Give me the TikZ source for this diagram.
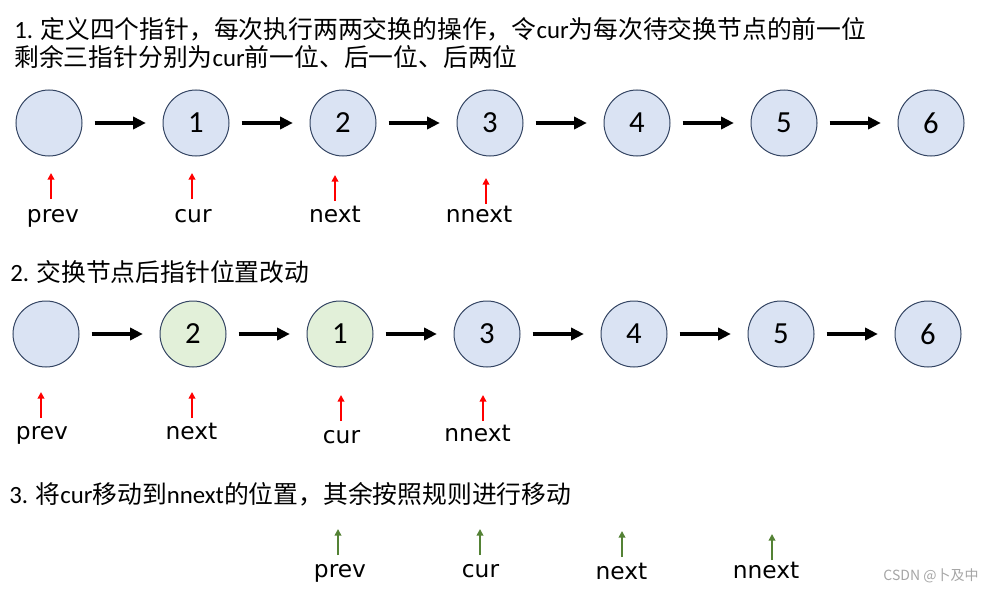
\documentclass[tikz,border=0pt]{standalone}
\usepackage{fontspec}
\setmainfont{Carlito}
\newfontfamily\cjk{Noto Sans CJK SC}
\newfontfamily\lblfont{DejaVu Sans}
\usetikzlibrary{arrows.meta}
\definecolor{nodeblue}{HTML}{DAE3F3}
\definecolor{nodegreen}{HTML}{E2F0D9}
\definecolor{nodeline}{HTML}{344563}
\definecolor{ptrgreen}{HTML}{548235}
\tikzset{
    >={Triangle[length=9.5pt,width=9pt]},
    listnode/.style={circle, draw=nodeline, line width=0.75pt, fill=nodeblue,
        minimum size=49.5pt, inner sep=0pt, font=\fontsize{23}{23}\selectfont},
    swapnode/.style={listnode, fill=nodegreen},
    link/.style={->, line width=3pt, shorten <=9pt, shorten >=12.5pt},
    ptrlabel/.style={inner sep=0pt, anchor=base, font=\lblfont\fontsize{17.5}{17.5}\selectfont},
    redptr/.style={-{Triangle[length=5pt,width=5pt]}, line width=1.5pt, red},
    greenptr/.style={redptr, ptrgreen},
    heading/.style={inner sep=0pt, anchor=base west, font=\fontsize{18.6}{23}\selectfont},
}

\begin{document}
\begin{tikzpicture}[x=0.75pt, y=-0.75pt]
    \fill[white] (0,0) rectangle (995,592);
    \useasboundingbox (0,0) rectangle (995,592);

    % step 1
    \node[heading] (head1) at (14,38.5)
        {1. {\cjk 定义四个指针，每次执行两两交换的操作，令}cur{\cjk 为每次待交换节点的前一位}};
    \node[heading] (head1b) at (14,66.5)
        {{\cjk 剩余三指针分别为}cur{\cjk 前一位、后一位、后两位}};

    \node[listnode] (a0) at (49,123) {};
    \foreach \i in {1,...,6}
        \node[listnode] (a\i) at ({49+147*\i},123) {\i};
    \foreach \i [count=\j] in {0,...,5}
        \draw[link] (a\i) -- (a\j);

    \foreach \nm/\txt/\lx/\ly/\ax/\ay in {prev1/prev/53/222.5/51/173, cur1/cur/193/222.5/192/173,
            next1/next/335/222.5/335/175, nnext1/nnext/479/222.5/486/178}{
        \node[ptrlabel] (\nm) at (\lx,\ly) {\txt};
        \coordinate (\nm-tip) at (\ax,\ay);
        \draw[redptr] (\nm-tip) ++(0,26) -- (\nm-tip);
    }

    % step 2
    \node[heading] (head2) at (10,281.5) {2. {\cjk 交换节点后指针位置改动}};

    \node[listnode] (b0) at (46,334) {};
    \node[swapnode] (b1) at (193,334) {2};
    \node[swapnode] (b2) at (340,334) {1};
    \foreach \i in {3,...,6}
        \node[listnode] (b\i) at ({46+147*\i},334) {\i};
    \foreach \i [count=\j] in {0,...,5}
        \draw[link] (b\i) -- (b\j);

    \foreach \nm/\txt/\lx/\ly/\ax/\ay in {prev2/prev/42/439/41/392, next2/next/191.5/439/192/392,
            cur2/cur/341.5/443.5/341/395, nnext2/nnext/477.5/441/483/395}{
        \node[ptrlabel] (\nm) at (\lx,\ly) {\txt};
        \coordinate (\nm-tip) at (\ax,\ay);
        \draw[redptr] (\nm-tip) ++(0,26) -- (\nm-tip);
    }

    % step 3
    \node[heading] (head3) at (9,503)
        {3. {\cjk 将}cur{\cjk 移动到}nnext{\cjk 的位置，其余按照规则进行移动}};

    \foreach \nm/\txt/\lx/\ly/\ax/\ay in {prev3/prev/340/577/338/529, cur3/cur/480.5/577/480/529,
            next3/next/621.5/579/622/531, nnext3/nnext/766/578/772/534}{
        \node[ptrlabel] (\nm) at (\lx,\ly) {\txt};
        \coordinate (\nm-tip) at (\ax,\ay);
        \draw[greenptr] (\nm-tip) ++(0,26) -- (\nm-tip);
    }

    \node[inner sep=0pt, text=gray!70, font=\cjk\fontsize{10.5}{10.5}\selectfont] (mark)
        at (931,576) {CSDN @卜及中};
\end{tikzpicture}
\end{document}
